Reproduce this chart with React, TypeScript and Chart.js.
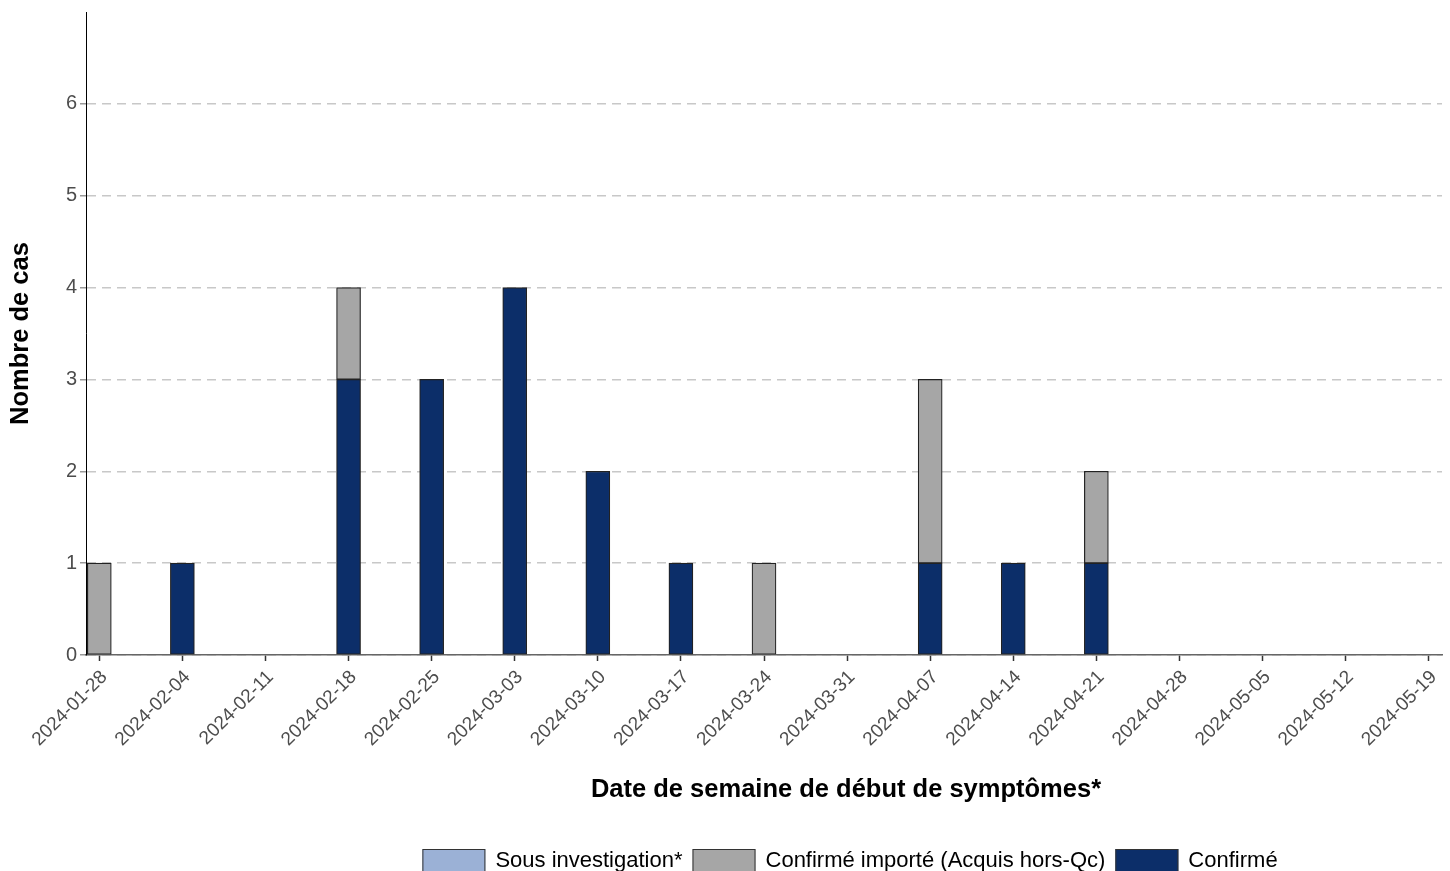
import React, { useEffect, useRef } from 'react';
import { Chart, registerables } from 'chart.js';

Chart.register(...registerables);

const FONT = '"Liberation Sans", Arial, Helvetica, sans-serif';

const weeks = [
  '2024-01-28', '2024-02-04', '2024-02-11', '2024-02-18', '2024-02-25',
  '2024-03-03', '2024-03-10', '2024-03-17', '2024-03-24', '2024-03-31',
  '2024-04-07', '2024-04-14', '2024-04-21', '2024-04-28', '2024-05-05',
  '2024-05-12', '2024-05-19',
];
const confirme = [0, 1, 0, 3, 3, 4, 2, 1, 0, 0, 1, 1, 1, 0, 0, 0, 0];
const confirmeImporte = [1, 0, 0, 1, 0, 0, 0, 0, 1, 0, 2, 0, 1, 0, 0, 0, 0];
const sousInvestigation = [0, 0, 0, 0, 0, 0, 0, 0, 0, 0, 0, 0, 0, 0, 0, 0, 0];
const yTickValues = [0, 1, 2, 3, 4, 5, 6];

const seriesNames = ['Confirmé', 'Confirmé importé (Acquis hors-Qc)', 'Sous investigation*'];
const yTitle = 'Nombre de cas';
const xTitle = 'Date de semaine de début de symptômes*';

const COLORS = ['#0c2e69', '#a6a6a6', '#9bb1d6'];

const overlayPlugin = {
  id: 'overlay',
  afterDraw(chart: any) {
    const ctx = chart.ctx as CanvasRenderingContext2D;
    ctx.save();
    ctx.fillStyle = '#000';
    ctx.font = `bold 25.5px ${FONT}`;
    ctx.textAlign = 'center';
    ctx.textBaseline = 'middle';
    ctx.fillText(xTitle, 846, 790);

    ctx.font = `22px ${FONT}`;
    const items = [...chart.data.datasets].reverse();
    const boxW = 63, boxH = 24, gapText = 10, gapItem = 10;
    const widths = items.map((d: any) => ctx.measureText(d.label).width);
    const total = items.reduce((s: number, _d: any, i: number) => s + boxW + gapText + widths[i], 0) + gapItem * (items.length - 1);
    let x = 850 - total / 2;
    const top = 849;
    items.forEach((d: any, i: number) => {
      ctx.fillStyle = d.backgroundColor;
      ctx.fillRect(x, top, boxW, boxH);
      ctx.strokeStyle = '#333';
      ctx.lineWidth = 1;
      ctx.strokeRect(x + 0.5, top + 0.5, boxW - 1, boxH - 1);
      ctx.fillStyle = '#000';
      ctx.textAlign = 'left';
      ctx.textBaseline = 'middle';
      ctx.fillText(d.label, x + boxW + gapText, top + 12);
      x += boxW + gapText + widths[i] + gapItem;
    });
    ctx.restore();
  },
};

export default function App() {
  const ref = useRef<HTMLCanvasElement>(null);
  useEffect(() => {
    if (!ref.current) return;
    const series = [confirme, confirmeImporte, sousInvestigation];
    const chart = new Chart(ref.current, {
      type: 'bar',
      data: {
        datasets: series.map((vals, k) => ({
          label: seriesNames[k],
          data: vals.map((v, i) => ({ x: i, y: v })),
          backgroundColor: COLORS[k],
          borderColor: '#222',
          borderWidth: 1.2,
          borderSkipped: false,
          barThickness: 24,
        })),
      },
      options: {
        responsive: false,
        animation: false,
        devicePixelRatio: 1,
        layout: { padding: { top: 12, right: 8, left: 0, bottom: 0 } },
        plugins: {
          legend: { display: false },
          tooltip: { enabled: false },
        },
        scales: {
          x: {
            type: 'linear',
            stacked: true,
            offset: false,
            min: -0.16,
            max: 16.16,
            afterBuildTicks: (scale: any) => {
              scale.ticks = weeks.map((_w, i) => ({ value: i }));
            },
            afterFit: (scale: any) => {
              scale.height = 216;
              scale.paddingLeft = 0;
              scale.paddingRight = 0;
            },
            ticks: {
              autoSkip: false,
              maxRotation: 45,
              minRotation: 45,
              padding: 5,
              labelOffset: 5,
              color: '#4d4d4d',
              font: { family: FONT, size: 19 },
              callback: (v: any) => weeks[v] ?? '',
            },
            grid: {
              offset: false,
              drawOnChartArea: false,
              drawTicks: true,
              tickLength: 6,
              tickColor: '#333',
              tickWidth: 1.5,
            },
            border: { display: true, color: '#666', width: 1.5 },
          },
          y: {
            type: 'linear',
            stacked: true,
            min: 0,
            max: 7,
            afterBuildTicks: (scale: any) => {
              scale.ticks = yTickValues.map((v) => ({ value: v }));
            },
            afterFit: (scale: any) => {
              scale.width = 86;
              scale.paddingTop = 0;
              scale.paddingBottom = 0;
            },
            ticks: {
              padding: 3,
              color: '#4d4d4d',
              font: { family: FONT, size: 20 },
            },
            grid: {
              color: '#c8c8c8',
              lineWidth: 1.5,
              tickColor: '#999',
              tickLength: 6,
              tickWidth: 1.5,
              tickBorderDash: [],
            },
            border: { display: true, color: '#000', width: 1, dash: [9, 6] },
            title: {
              display: true,
              text: yTitle,
              color: '#000',
              font: { family: FONT, size: 25.5, weight: 'bold' },
              padding: { top: 6, bottom: 0 },
            },
          },
        },
      } as any,
      plugins: [overlayPlugin],
    });
    return () => chart.destroy();
  }, []);
  return (
    <div style={{ position: 'fixed', left: 0, top: 0, width: 1450, height: 871, overflow: 'hidden', background: '#fff' }}>
      <canvas ref={ref} width={1450} height={871} style={{ width: 1450, height: 871, display: 'block' }} />
    </div>
  );
}
